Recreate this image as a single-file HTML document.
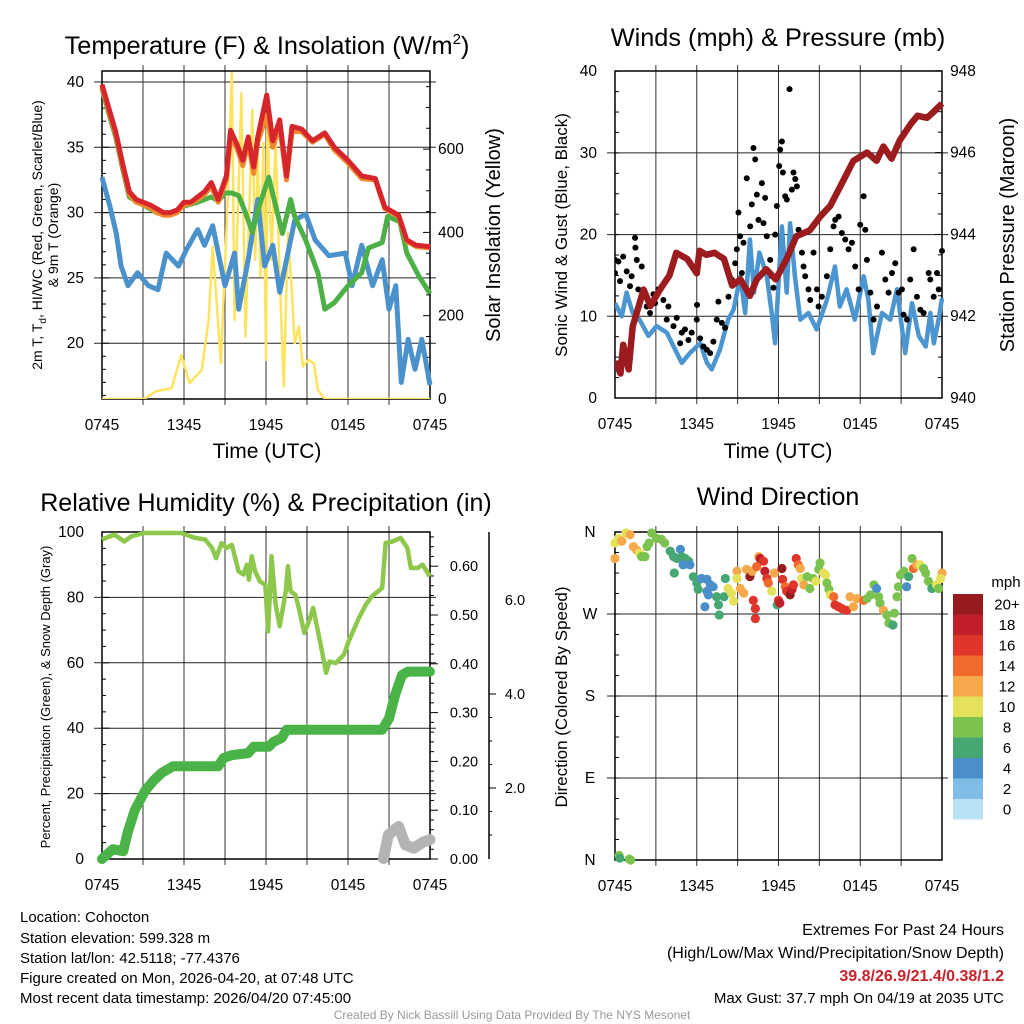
<!DOCTYPE html>
<html><head><meta charset="utf-8"><style>
html,body{margin:0;padding:0;background:#fff;}
svg{display:block;font-family:"Liberation Sans",sans-serif;}
</style></head><body>
<svg id="root" width="1024" height="1024" viewBox="0 0 1024 1024" xmlns="http://www.w3.org/2000/svg">
<g id="p1"></g>
<g id="p2"></g>
<g id="p3"></g>
<g id="p4"></g>
<g id="txt">
<text x="20" y="922" font-size="15">Location: Cohocton</text>
<text x="20" y="943" font-size="15">Station elevation: 599.328 m</text>
<text x="20" y="963" font-size="15">Station lat/lon: 42.5118; -77.4376</text>
<text x="20" y="983" font-size="15">Figure created on Mon, 2026-04-20, at 07:48 UTC</text>
<text x="20" y="1003" font-size="15">Most recent data timestamp: 2026/04/20 07:45:00</text>
<text x="1004" y="935" font-size="16" text-anchor="end">Extremes For Past 24 Hours</text>
<text x="1004" y="958" font-size="16" text-anchor="end">(High/Low/Max Wind/Precipitation/Snow Depth)</text>
<text x="1004" y="981" font-size="16" font-weight="bold" fill="#c8222a" text-anchor="end">39.8/26.9/21.4/0.38/1.2</text>
<text x="1004" y="1003" font-size="15" text-anchor="end">Max Gust: 37.7 mph On 04/19 at 2035 UTC</text>
<text x="512" y="1019" font-size="12" fill="#999" text-anchor="middle">Created By Nick Bassill Using Data Provided By The NYS Mesonet</text>
</g>
</svg>
<script>
// ---------- data ----------
const xTickLabels = ["0745","1345","1945","0145","0745"];
const tempHours = [0,0.5,1,1.5,2,2.5,3,3.5,4,4.5,5,5.5,6,6.5,7,7.5,8,8.5,9.1,9.4,9.85,10.3,10.7,11.1,11.4,12.05,12.5,13,13.5,13.9,14.6,15.4,16.3,17,18,19,20,20.7,21.7,22.3,23,24];
const tempRed = [39.8,38.0,36.2,33.8,31.6,31.0,30.8,30.6,30.3,30.0,30.0,30.2,30.8,30.8,31.2,31.6,32.3,31.0,32.8,36.3,35.3,34.0,35.8,33.5,35.8,39.0,35.5,37.1,32.8,36.6,36.4,35.5,36.1,35.0,34.0,32.8,32.6,30.4,29.8,27.9,27.5,27.4];
const tempOrange = [39.6,37.8,36.0,33.6,31.4,30.8,30.6,30.4,30.0,29.8,29.8,30.0,30.6,30.7,31.0,31.4,32.0,30.8,32.5,35.8,35.0,33.6,35.4,33.0,35.4,37.5,35.0,36.6,32.5,36.2,36.2,35.4,36.0,34.8,33.8,32.6,32.5,30.3,29.7,27.8,27.4,27.3];
const greenHours = [0,0.5,1,1.5,2,3,4,5,6,7,8,8.5,9,9.5,10,10.5,11,11.5,12.2,13.2,13.8,14.1,14.9,15.8,16.3,17,18,19,19.5,20.5,20.9,21.8,22.3,23.2,24];
const tempGreen = [39.5,37.6,35.8,33.4,31.2,30.6,30.0,29.9,30.5,30.8,31.2,30.9,31.5,31.5,31.3,30.0,28.5,30.5,32.7,28.4,31.0,29.7,27.9,25.4,22.6,23.1,24.4,25.4,27.3,27.7,29.7,29.3,26.9,25.1,23.8];
const blueHours = [0,0.6,1.05,1.4,1.9,2.6,3.4,4.1,4.7,5.6,6.2,7,7.5,8.1,9,9.7,10,10.7,11.4,11.9,12.5,13,13.6,14.1,14.9,15.6,16.6,17.8,18.3,19,19.8,20.5,21,21.5,21.9,22.4,22.9,23.4,24];
const tempBlue = [32.7,30.4,28.4,25.9,24.4,25.4,24.4,24.1,26.9,25.9,27.2,28.7,27.5,29.0,24.4,26.9,22.6,26.4,31.0,25.9,27.5,23.9,26.9,29.4,29.9,27.9,26.7,26.9,24.4,27.5,24.4,26.4,22.6,24.4,17.0,20.3,18.0,20.3,16.8];
const solarHours = [0,3.1,3.9,5.1,5.8,6.4,7.3,7.8,8.1,8.7,9.2,9.5,9.7,10.2,10.5,11,11.2,11.4,11.6,11.8,12,12.1,12.4,12.7,13,13.3,13.6,13.9,14.1,14.4,14.7,15.1,15.5,15.8,16.3,24];
const solarValues = [0,0,18,26,106,38,70,190,366,86,478,782,190,734,150,694,334,590,294,614,94,670,334,622,294,30,398,254,134,174,78,94,86,22,0,0];

const windHours = [0,0.5,0.85,1.3,1.8,2.45,3.05,3.8,4.3,4.9,5.5,6.25,6.75,7.1,7.7,8.3,8.7,9.2,9.55,9.9,10.2,10.6,11.15,11.5,11.75,12.1,12.25,12.6,12.85,13.2,13.6,14.2,14.8,15.55,16.15,16.5,17.0,17.6,18.25,18.6,18.95,19.6,20.2,20.7,21.3,21.8,22.3,22.8,23.15,23.4,23.75,24];
const windSpeed = [11.6,10.0,12.9,10.4,9.6,7.6,8.8,8.0,6.3,4.3,5.5,6.7,4.3,3.5,5.9,9.6,10.8,14.9,10.4,19.4,12.9,17.8,14.9,10.4,6.7,16.9,21.0,12.9,21.4,14.9,9.6,10.4,8.4,12.0,16.1,11.2,13.3,9.6,14.9,12.0,5.5,10.4,9.6,13.3,5.5,11.6,7.6,6.3,10.4,6.7,9.6,12.2];
const gustHours = [0,0,0.25,0.37,0.6,0.86,1.1,1.22,1.47,1.5,1.6,1.71,1.96,2.33,2.57,2.82,2.94,3.18,3.55,3.8,3.92,4.29,4.53,4.78,4.9,5.14,5.39,5.63,6,6.02,6.25,6.49,6.74,6.98,7.22,7.47,7.59,7.84,8.08,8.33,8.57,8.82,8.94,9.06,9.18,9.31,9.43,9.67,9.92,10.04,10.16,10.29,10.41,10.53,10.78,10.9,11.02,11.14,11.39,11.51,11.63,11.76,11.88,12.05,12.12,12.25,12.32,12.49,12.61,12.81,12.98,13.1,13.23,13.35,13.47,13.72,13.84,13.96,14.2,14.33,14.57,14.82,14.94,15.18,15.55,15.8,16.04,16.16,16.41,16.65,16.9,17.14,17.39,17.63,17.88,18,18.25,18.37,18.49,18.74,18.98,19.23,19.59,19.84,20.08,20.33,20.57,20.82,21.06,21.18,21.43,21.67,21.92,22.16,22.41,22.65,23.02,23.14,23.39,23.63,23.76,24];
const gustSpeed = [16.9,15.3,16.7,14.3,17.3,15.5,13.7,14.9,19.6,18.4,16.9,13.3,16.1,11.2,10.4,12.7,11.6,13.3,12.0,9.6,11.2,8.8,9.8,6.7,8.0,8.4,7.1,8.0,9.6,11.4,7.3,6.3,5.9,5.5,6.9,9.6,11.8,9.2,8.6,12.4,14.5,16.5,18.2,22.7,19.8,15.3,19.0,26.9,21.0,23.7,30.6,29.2,24.9,21.8,26.3,21.4,24.5,19.8,16.9,14.9,13.5,20.0,23.5,28.4,30.4,31.4,27.6,24.7,24.3,37.8,25.5,27.6,26.8,25.9,20.6,17.8,16.1,14.9,13.3,12.0,17.8,13.3,11.2,12.4,14.9,18.2,21.0,21.8,22.2,20.2,19.4,18.2,19.0,16.1,13.3,21.2,24.7,20.6,16.9,12.9,9.6,11.2,17.8,14.5,12.9,15.3,16.5,12.9,13.3,10.2,9.6,14.5,18.2,12.4,10.8,10.4,15.3,14.5,12.4,15.3,13.3,18.0];
const pressHours = [0,0.4,0.6,1,1.3,2.1,2.6,3.3,4,4.5,5.3,6,6.2,6.7,7.3,8,8.6,9.2,9.9,10.4,11.1,11.8,12.6,13.3,14.3,15.1,15.8,16.5,17.5,18.5,19.2,19.7,20.3,20.9,21.7,22.2,22.9,23.4,24];
const pressure = [940.9,940.6,941.3,940.7,941.75,942.65,942.25,942.65,943.0,943.55,943.4,943.05,943.6,943.5,943.55,943.4,942.75,942.9,942.5,942.9,943.15,942.9,943.4,943.95,944.1,944.45,944.7,945.15,945.8,946.0,945.8,946.15,945.85,946.3,946.7,946.9,946.85,947.0,947.2];

const rhHours = [0,0.9,1.65,2.15,3.1,5.8,6.8,7.55,8.05,8.35,8.75,9.1,9.5,9.75,9.99,10.35,10.6,10.75,10.95,11.2,11.55,11.95,12.15,12.4,12.7,13.0,13.45,13.6,13.8,14.15,14.4,14.8,15.15,15.45,15.75,16.1,16.4,16.65,17.1,17.7,18.05,18.8,19.3,19.75,20.5,20.75,21.25,21.85,22.35,22.6,23.1,23.45,24];
const rhValues = [97.7,99.2,97.1,98.7,99.7,99.7,98.2,97.7,95.1,92.0,96.6,95.1,96.1,92.0,88.0,87.0,90.0,85.4,92.6,88.0,84.9,83.9,69.6,92.6,77.8,71.2,81.9,89.5,81.9,80.8,76.8,69.1,72.7,76.8,70.6,63.5,56.9,60.4,59.9,62.5,66.6,73.7,77.8,80.3,82.9,96.6,97.1,98.2,95.1,89.0,89.0,90.0,86.4];
const precipHours = [0,0.8,1.55,1.9,2.4,3.15,3.75,4.35,5.2,8.5,8.9,9.5,10.7,11.1,12.2,12.55,13.15,13.5,20.5,21,21.45,21.95,22.4,24];
const precipValues = [0,0.02,0.016,0.057,0.10,0.14,0.16,0.176,0.19,0.19,0.207,0.213,0.217,0.23,0.23,0.24,0.248,0.265,0.265,0.288,0.336,0.377,0.384,0.384];
const snowHours = [20.6,20.95,21.7,22.2,22.8,23.5,24];
const snowValues = [0.5,1.0,1.18,0.79,0.72,0.85,0.9];

const dirHours = [0,0,0.25,0.5,0.8,1.1,1.35,1.6,1.8,1.95,2.2,2.35,2.5,2.7,3.05,3.4,3.65,4.05,4.3,4.55,4.8,4.9,5.15,5.4,5.0,5.5,4.35,5.75,6.0,6.1,6.35,6.75,7.0,7.2,6.75,6.85,6.6,7.45,7.6,7.65,8.1,8.0,8.3,8.55,8.7,8.95,8.95,9.2,9.45,9.65,9.9,10.05,10.4,10.55,10.65,10.9,11.0,11.15,11.25,11.5,11.7,10.15,10.3,10.3,11.9,12.0,12.1,12.25,12.3,12.5,12.6,12.85,13.0,13.1,13.3,13.45,13.6,13.7,13.85,14.1,14.3,14.55,14.75,14.95,15.05,15.3,15.45,15.55,15.7,15.8,16.05,16.15,16.4,16.65,17.0,17.25,17.5,17.75,18.25,18.5,18.75,19.0,19.2,19.35,19.45,19.7,19.95,20.1,20.4,20.5,20.7,20.8,20.95,21.2,21.4,21.55,21.8,21.9,22.15,22.4,22.65,22.8,23.0,23.25,23.6,23.75,24.0,23.9,0.3,0.35,1.05,1.15];
const dirDegrees = [331,348,353,350,359,357,344,340,337,333,333,344,348,359,353,352,348,339,333,331,341,333,331,328,324,324,315,311,304,297,309,308,302,300,295,291,278,289,280,269,309,289,298,293,284,317,309,298,293,319,311,317,322,333,331,328,317,309,304,295,315,285,276,265,280,285,282,320,308,300,295,291,297,302,331,324,320,309,302,311,298,309,306,319,326,315,313,304,297,291,289,280,278,276,274,289,278,287,285,287,291,302,298,289,282,274,269,260,258,271,289,300,313,317,300,311,331,320,324,324,320,315,306,298,302,298,315,309,5,2,1,0];
const dirSpeeds = [12,10,10,12,10,12,12,12,10,8,8,8,8,8,8,8,8,6,6,6,4,6,6,6,4,4,6,6,6,6,4,4,4,4,4,4,4,6,6,6,6,6,10,10,10,12,10,12,12,12,20,12,14,12,18,16,18,16,14,10,12,16,16,16,6,16,18,20,16,14,16,20,18,16,16,14,12,10,12,8,8,8,10,8,8,10,10,8,8,10,14,16,16,16,16,12,12,12,14,8,8,8,4,8,8,12,8,8,6,8,8,8,8,8,4,6,8,14,12,10,8,8,8,6,10,8,12,10,8,6,8,8];
const speedBins = ["20+","18","16","14","12","10","8","6","4","2","0"];
const speedColors = ["#951b1f","#c1202a","#e0352b","#ef6a2c","#f5a94a","#e6e15a","#7cc24e","#47a773","#4a8fca","#7fbde8","#b8e3f7"];

// ---------- helpers ----------
const NS="http://www.w3.org/2000/svg";
function mk(parent,tag,attrs,text){const e=document.createElementNS(NS,tag);for(const k in attrs)e.setAttribute(k,attrs[k]);if(text!==undefined)e.textContent=text;parent.appendChild(e);return e;}
function pathFrom(xs,ys,fx,fy){let d="";for(let i=0;i<xs.length;i++){d+=(i?"L":"M")+fx(xs[i]).toFixed(1)+","+fy(ys[i]).toFixed(1);}return d;}
function colorFor(s){if(s>=20)return speedColors[0];if(s>=18)return speedColors[1];if(s>=16)return speedColors[2];if(s>=14)return speedColors[3];if(s>=12)return speedColors[4];if(s>=10)return speedColors[5];if(s>=8)return speedColors[6];if(s>=6)return speedColors[7];if(s>=4)return speedColors[8];if(s>=2)return speedColors[9];return speedColors[10];}

function frame(g,L,R,T,B,hLines){
  for(let i=1;i<8;i++){const x=L+(R-L)*i/8;
    const v=mk(g,"line",{x1:x,x2:x,y1:T-6,y2:B+6,stroke:"#333","stroke-width":1});
    
    }
  hLines.forEach(y=>{const h=mk(g,"line",{x1:L-8,x2:R+6,y1:y,y2:y,stroke:"#222","stroke-width":1});
    
    });
  const r=mk(g,"rect",{x:L,y:T,width:R-L,height:B-T,fill:"none",stroke:"#000","stroke-width":1.5});
  
  
  xTickLabels.forEach((t,i)=>{const x=L+(R-L)*i/4;
    const tl=mk(g,"text",{x:x,y:B+31,"font-size":15.5,"text-anchor":"middle"},t);
    
    });
}
function clipRect(id,L,T,R,B){const root=document.getElementById("root");const cp=mk(root,"clipPath",{id:id});mk(cp,"rect",{x:L,y:T,width:R-L,height:B-T});}

// ---------- panel 1 ----------
(function(){
  const g=document.getElementById("p1");const L=102,R=430,T=71,B=399;
  const fx=h=>L+h*(R-L)/24, fy=v=>82+(40-v)*13.06, fs=v=>399-v*0.4165;
  frame(g,L,R,T,B,[20,25,30,35,40].map(fy));
  for(let v=16;v<=40;v++){const y=fy(v);mk(g,"line",{x1:L,x2:L+(v%5?4:7),y1:y,y2:y,stroke:"#000"});}
  [20,25,30,35,40].forEach(v=>{const t=mk(g,"text",{x:84,y:fy(v)+5,"font-size":15.5,"text-anchor":"end"},v);
    
    });
  for(let v=0;v<=750;v+=50){const y=fs(v);mk(g,"line",{x1:R,x2:R-(v%200?4:7),y1:y,y2:y,stroke:"#000"});}
  [0,200,400,600].forEach(v=>{const t=mk(g,"text",{x:438,y:fs(v)+5,"font-size":15.5,"text-anchor":"start"},v);
    
    });
  clipRect("c1",L-6,62,R+6,B);
  const cg=mk(g,"g",{"clip-path":"url(#c1)"});
  const s1=mk(cg,"path",{d:pathFrom(solarHours,solarValues,fx,fs),fill:"none",stroke:"#fde35e","stroke-width":2.5,"stroke-linejoin":"round"});
  
  
  const b=mk(cg,"path",{d:pathFrom(blueHours,tempBlue,fx,fy),fill:"none",stroke:"#4b92cc","stroke-width":5,"stroke-linejoin":"round"});
  
  
  const gr=mk(cg,"path",{d:pathFrom(greenHours,tempGreen,fx,fy),fill:"none",stroke:"#4db046","stroke-width":5,"stroke-linejoin":"round"});
  
  
  const o=mk(cg,"path",{d:pathFrom(tempHours,tempOrange,fx,fy),fill:"none",stroke:"#f08a30","stroke-width":5,"stroke-linejoin":"round"});
  
  
  const r=mk(cg,"path",{d:pathFrom(tempHours,tempRed,fx,fy),fill:"none",stroke:"#d7262b","stroke-width":5,"stroke-linejoin":"round"});
  
  
  const t=mk(g,"text",{x:267,y:54,"font-size":25.3,"text-anchor":"middle"});
  
  
  t.innerHTML='Temperature (F) &amp; Insolation (W/m<tspan dy="-10" font-size="15">2</tspan><tspan dy="10">)</tspan>';
  const xt=mk(g,"text",{x:267,y:458,"font-size":21,"text-anchor":"middle"},"Time (UTC)");
  
  
  const yl=mk(g,"text",{transform:"translate(42,235) rotate(-90)","font-size":14,"text-anchor":"middle"});
  
  
  yl.innerHTML='2m T, T<tspan dy="4" font-size="10">d</tspan><tspan dy="-4">, HI/WC (Red, Green, Scarlet/Blue)</tspan>';
  const yl2=mk(g,"text",{transform:"translate(58,235) rotate(-90)","font-size":14,"text-anchor":"middle"},"& 9m T (Orange)");
  
  
  const yr=mk(g,"text",{transform:"translate(500,235) rotate(-90)","font-size":20,"text-anchor":"middle"},"Solar Insolation (Yellow)");
  
  
})();

// ---------- panel 2 ----------
(function(){
  const g=document.getElementById("p2");const L=615,R=942,T=71,B=398;
  const fx=h=>L+h*(R-L)/24, fy=v=>398-v*8.17, fp=p=>398-(p-940)*40.9;
  frame(g,L,R,T,B,[10,20,30].map(fy));
  for(let v=0;v<=40;v+=2.5){const y=fy(v);mk(g,"line",{x1:L,x2:L+4,y1:y,y2:y,stroke:"#000"});}
  [0,10,20,30,40].forEach(v=>{const t=mk(g,"text",{x:597,y:fy(v)+5,"font-size":15.5,"text-anchor":"end"},v);
    
    });
  for(let p=940;p<=948;p+=0.5){const y=fp(p);mk(g,"line",{x1:R,x2:R-(p%2?4:7),y1:y,y2:y,stroke:"#000"});}
  [940,942,944,946,948].forEach(p=>{const t=mk(g,"text",{x:963,y:fp(p)+5,"font-size":15.5,"text-anchor":"middle"},p);
    
    });
  clipRect("c2",L,T-2,R+4,B);
  const cg=mk(g,"g",{"clip-path":"url(#c2)"});
  const w=mk(cg,"path",{d:pathFrom(windHours,windSpeed,fx,fy),fill:"none",stroke:"#4b95d0","stroke-width":4.5,"stroke-linejoin":"round"});
  
  
  gustHours.forEach((h,i)=>{const c=mk(cg,"circle",{cx:fx(h),cy:fy(gustSpeed[i]),r:3,fill:"#000"});
    
    });
  const p=mk(cg,"path",{d:pathFrom(pressHours,pressure,fx,fp),fill:"none",stroke:"#9b1b1e","stroke-width":6.5,"stroke-linejoin":"round"});
  
  
  const t=mk(g,"text",{x:778,y:46,"font-size":25.3,"text-anchor":"middle"},"Winds (mph) & Pressure (mb)");
  
  
  const xt=mk(g,"text",{x:778,y:458,"font-size":21,"text-anchor":"middle"},"Time (UTC)");
  
  
  const yl=mk(g,"text",{transform:"translate(567,235) rotate(-90)","font-size":17,"text-anchor":"middle"},"Sonic Wind & Gust (Blue, Black)");
  
  
  const yr=mk(g,"text",{transform:"translate(1014,235) rotate(-90)","font-size":20,"text-anchor":"middle"},"Station Pressure (Maroon)");
  
  
})();

// ---------- panel 3 ----------
(function(){
  const g=document.getElementById("p3");const L=102,R=430,T=532,B=859;
  const fx=h=>L+h*(R-L)/24, fy=v=>859-v*3.27, fpr=v=>859-v*488, fsn=v=>882-v*47;
  frame(g,L,R,T,B,[20,40,60,80].map(fy));
  for(let v=0;v<=100;v+=5){const y=fy(v);mk(g,"line",{x1:L,x2:L+(v%20?4:7),y1:y,y2:y,stroke:"#000"});}
  [0,20,40,60,80,100].forEach(v=>{const t=mk(g,"text",{x:84,y:fy(v)+5,"font-size":15.5,"text-anchor":"end"},v);
    
    });
  for(let i=0;i<=66;i+=2){const v=i/100,y=fpr(v);mk(g,"line",{x1:R,x2:R+(i%10?4:8),y1:y,y2:y,stroke:"#000"});}
  ["0.00","0.10","0.20","0.30","0.40","0.50","0.60"].forEach(s=>{const t=mk(g,"text",{x:464,y:fpr(+s)+5,"font-size":14.5,"text-anchor":"middle"},s);
    
    });
  const ax=mk(g,"line",{x1:489,x2:489,y1:532,y2:859,stroke:"#000","stroke-width":1.5});
  
  
  for(let i=1;i<=7;i++){const v=i*0.5+0.5,y=fsn(v);if(y<532)continue;mk(g,"line",{x1:489,x2:489+(v%2?3:7),y1:y,y2:y,stroke:"#000"});}
  ["2.0","4.0","6.0"].forEach(s=>{const t=mk(g,"text",{x:515,y:fsn(+s)+5,"font-size":14.5,"text-anchor":"middle"},s);
    
    });
  clipRect("c3",L-8,T-2,R+8,B+8);
  const cg=mk(g,"g",{"clip-path":"url(#c3)"});
  const sn=mk(cg,"path",{d:pathFrom(snowHours,snowValues,fx,fsn),fill:"none",stroke:"#b4b4b4","stroke-width":11,"stroke-linejoin":"round","stroke-linecap":"round"});
  
  
  const rh=mk(cg,"path",{d:pathFrom(rhHours,rhValues,fx,fy),fill:"none",stroke:"#8dc74c","stroke-width":4.5,"stroke-linejoin":"round"});
  
  
  const pr=mk(cg,"path",{d:pathFrom(precipHours,precipValues,fx,fpr),fill:"none",stroke:"#49b347","stroke-width":10,"stroke-linejoin":"round","stroke-linecap":"round"});
  
  
  const t=mk(g,"text",{x:266,y:511,"font-size":25,"text-anchor":"middle"},"Relative Humidity (%) & Precipitation (in)");
  
  
  const yl=mk(g,"text",{transform:"translate(50,697) rotate(-90)","font-size":13,"text-anchor":"middle"},"Percent, Precipitation (Green), & Snow Depth (Gray)");
  
  
})();

// ---------- panel 4 ----------
(function(){
  const g=document.getElementById("p4");const L=615,R=942,T=532,B=860;
  const fx=h=>L+h*(R-L)/24, fy=d=>860-d*0.911;
  frame(g,L,R,T,B,[270,180,90].map(fy));
  for(let d=0;d<=360;d+=22.5){const y=fy(d);mk(g,"line",{x1:L,x2:L+4,y1:y,y2:y,stroke:"#000"});}
  ["N","E","S","W","N"].forEach((s,i)=>{const t=mk(g,"text",{x:590,y:fy(i*90)+5,"font-size":15.5,"text-anchor":"middle"},s);
    
    });
  dirHours.forEach((h,i)=>{const c=mk(g,"circle",{cx:fx(h),cy:fy(dirDegrees[i]),r:4.6,fill:colorFor(dirSpeeds[i])});
    
    });
  const t=mk(g,"text",{x:778,y:505,"font-size":25,"text-anchor":"middle"},"Wind Direction");
  
  
  const yl=mk(g,"text",{transform:"translate(567,697) rotate(-90)","font-size":17,"text-anchor":"middle"},"Direction (Colored By Speed)");
  
  
  const cb=mk(g,"g",{});
  
  
  const mt=mk(cb,"text",{x:1006,y:587,"font-size":15,"text-anchor":"middle"},"mph");
  
  
  speedBins.forEach((s,i)=>{const y=594+i*20.5;
    const r=mk(cb,"rect",{x:953,y:y,width:30,height:20.5,fill:speedColors[i]});
    
    
    const l=mk(cb,"text",{x:1007,y:y+15.5,"font-size":15,"text-anchor":"middle"},s);
    
    });
})();
</script>
</body></html>
